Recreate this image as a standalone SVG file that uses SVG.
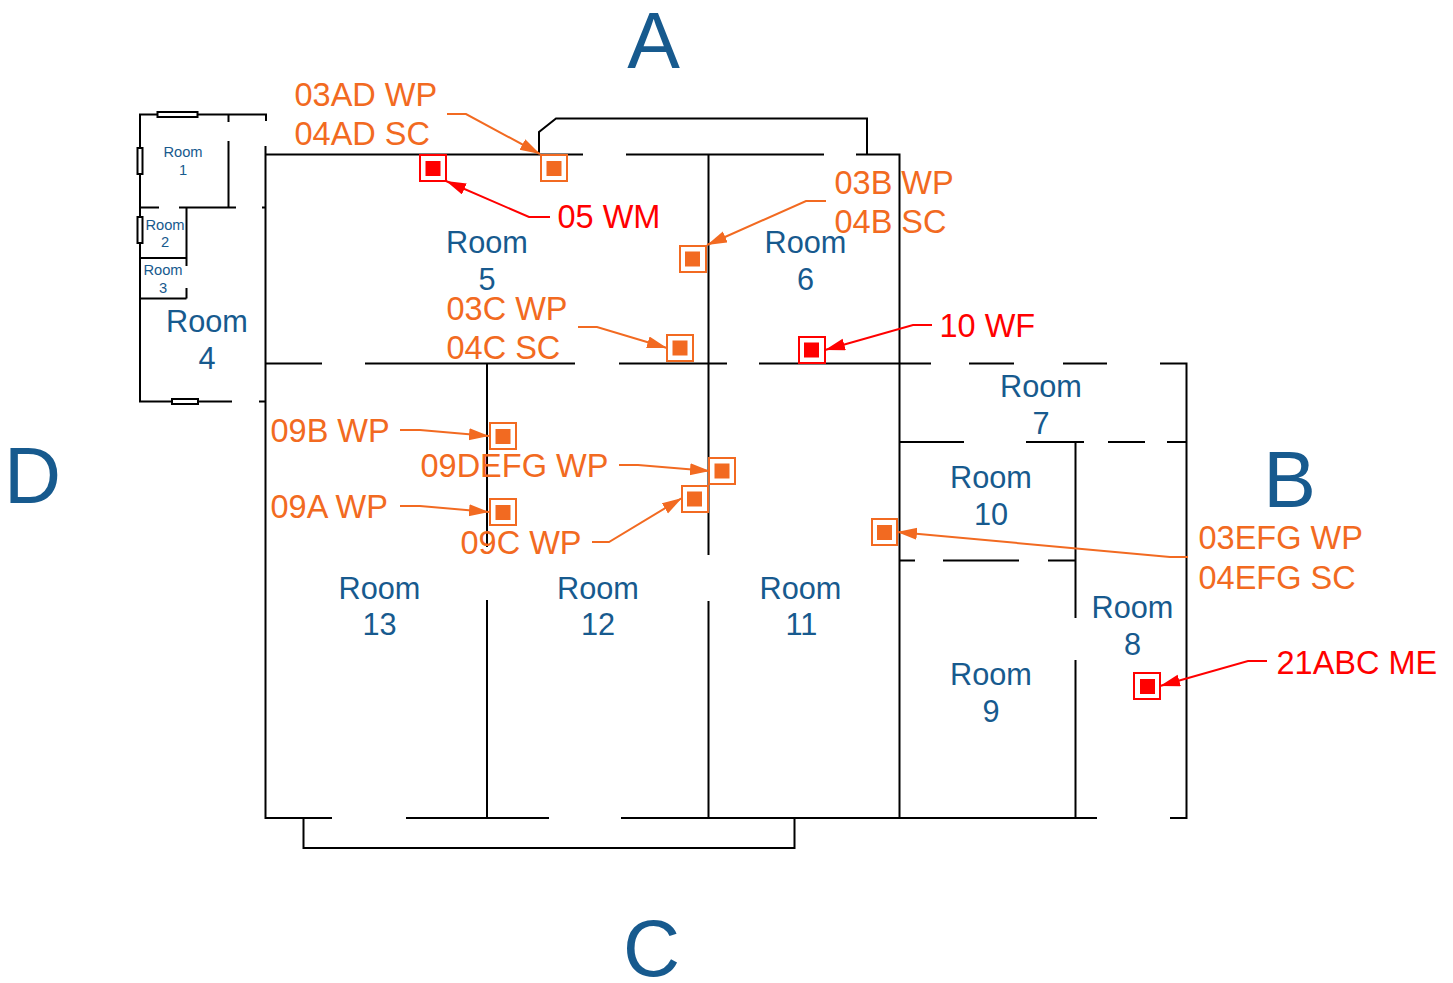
<svg xmlns="http://www.w3.org/2000/svg" width="1453" height="983" viewBox="0 0 1453 983">
<style>
text{font-family:"Liberation Sans",Arial,sans-serif}
.w{fill:none;stroke:#000;stroke-width:2}
.win{fill:#fff;stroke:#000;stroke-width:2}
.r{fill:#175a8e;font-size:30.7px;text-anchor:middle}
.rs{fill:#175a8e;font-size:14.7px;text-anchor:middle}
.big{fill:#175a8e;font-size:79px;text-anchor:middle}
.lo{fill:#f26a21;font-size:32.5px}
.lr{fill:#ff0000;font-size:32.5px}
.co{fill:none;stroke:#f26a21;stroke-width:2;marker-end:url(#ao)}
.cr{fill:none;stroke:#ff0000;stroke-width:2;marker-end:url(#ar)}
.oo{fill:#fff;stroke:#f26a21;stroke-width:2}
.oi{fill:#f26a21}
.ro{fill:#fff;stroke:#ff0000;stroke-width:2}
.ri{fill:#ff0000}
</style>
<defs>
<marker id="ao" markerUnits="userSpaceOnUse" markerWidth="22" markerHeight="14" refX="20" refY="6" orient="auto"><path d="M0 0L20 6L0 12Z" fill="#f26a21"/></marker>
<marker id="ar" markerUnits="userSpaceOnUse" markerWidth="22" markerHeight="14" refX="20" refY="6" orient="auto"><path d="M0 0L20 6L0 12Z" fill="#ff0000"/></marker>
</defs>
<g id="walls">
<path class="w" d="M266 121V114.500H140V401.500H232M259 401.500H266M228.500 114.500V122M228.500 141V207.500M140 207.500H159M179 207.500H236M262 207.500H266M186.500 207.500V266M186.500 288V298.500M140 258H186.500M140 298.500H186.500"/>
<path class="w" d="M265.500 146V818H332M406 818H549M621 818H1097M1170 818H1186.500V363.500H1160M1107 363.500H1063M1014 363.500H969M931 363.500H759M727 363.500H619M575 363.500H365M322 363.500H266"/>
<path class="w" d="M266 154.500H583M626 154.500H824M856 154.500H899.500V818M539 154.500V132L556 118.500H867V154.500"/>
<path class="w" d="M708.500 154.500V555M708.500 601V818M487 363.500V547M487 600V818"/>
<path class="w" d="M900 442H964M1026 442H1084M1108 442H1145M1167 442H1187M1075.500 442V618M1075.500 660V818M900 560.500H915M943 560.500H1019M1048 560.500H1075.500"/>
<path class="w" d="M303.500 818V848H794.500V818"/>
<rect class="win" x="157.500" y="112" width="40" height="5"/>
<rect class="win" x="137.500" y="148" width="5" height="26"/>
<rect class="win" x="137.500" y="217" width="5" height="26"/>
<rect class="win" x="172" y="399" width="26" height="5"/>
</g>
<g id="connectors">
<path class="co" d="M447 114H466L540 154"/>
<path class="cr" d="M550 217H529L446 181"/>
<path class="co" d="M826 201H806L707 245"/>
<path class="co" d="M578 327H597L667 348"/>
<path class="cr" d="M932 325H913L825 350"/>
<path class="co" d="M400 430H420L489 436"/>
<path class="co" d="M400 506H420L489 512"/>
<path class="co" d="M619 465H638L710 471"/>
<path class="co" d="M592 542H609L682 498"/>
<path class="co" d="M1188 557H1170L897 532"/>
<path class="cr" d="M1267 661H1248L1160 686"/>
</g>
<g id="device-05"><rect class="ro" x="420" y="155" width="26" height="26"/><rect class="ri" x="425.500" y="161" width="15" height="15"/></g>
<g id="device-03AD"><rect class="oo" x="541" y="155" width="26" height="26"/><rect class="oi" x="546.500" y="161" width="15" height="15"/></g>
<g id="device-03B"><rect class="oo" x="680" y="246" width="26" height="26"/><rect class="oi" x="685" y="251.500" width="15" height="15"/></g>
<g id="device-03C"><rect class="oo" x="667" y="335" width="26" height="26"/><rect class="oi" x="672.500" y="340.500" width="15" height="15"/></g>
<g id="device-10"><rect class="ro" x="799" y="337" width="26" height="26"/><rect class="ri" x="804" y="342.500" width="15" height="15"/></g>
<g id="device-09B"><rect class="oo" x="490" y="423" width="26" height="26"/><rect class="oi" x="495.500" y="429" width="15" height="15"/></g>
<g id="device-09DEFG"><rect class="oo" x="709" y="458" width="26" height="26"/><rect class="oi" x="714.500" y="463.500" width="15" height="15"/></g>
<g id="device-09A"><rect class="oo" x="490" y="499" width="26" height="26"/><rect class="oi" x="495.500" y="505" width="15" height="15"/></g>
<g id="device-09C"><rect class="oo" x="682" y="486" width="26" height="26"/><rect class="oi" x="687" y="491.500" width="15" height="15"/></g>
<g id="device-03EFG"><rect class="oo" x="872" y="519" width="25" height="26"/><rect class="oi" x="877" y="525" width="15" height="15"/></g>
<g id="device-21ABC"><rect class="ro" x="1134" y="673" width="26" height="26"/><rect class="ri" x="1140" y="679" width="15" height="15"/></g>
<g id="room-labels">
<text class="rs" x="183" y="157">Room</text><text class="rs" x="183" y="175">1</text>
<text class="rs" x="165" y="230">Room</text><text class="rs" x="165" y="247">2</text>
<text class="rs" x="163" y="275">Room</text><text class="rs" x="163" y="293">3</text>
<text class="r" x="207" y="332">Room</text><text class="r" x="207" y="369">4</text>
<text class="r" x="487" y="253">Room</text><text class="r" x="487" y="290">5</text>
<text class="r" x="805.500" y="253">Room</text><text class="r" x="805.500" y="290">6</text>
<text class="r" x="1041" y="397">Room</text><text class="r" x="1041" y="434">7</text>
<text class="r" x="1132.500" y="618">Room</text><text class="r" x="1132.500" y="655">8</text>
<text class="r" x="991" y="685">Room</text><text class="r" x="991" y="722">9</text>
<text class="r" x="991" y="488">Room</text><text class="r" x="991" y="525">10</text>
<text class="r" x="800.500" y="599">Room</text><text class="r" x="801.500" y="635">11</text>
<text class="r" x="598" y="599">Room</text><text class="r" x="598" y="635">12</text>
<text class="r" x="379.500" y="599">Room</text><text class="r" x="379.500" y="635">13</text>
</g>
<g id="side-labels">
<text class="big" x="653.500" y="68">A</text>
<text class="big" x="1289.500" y="506.500">B</text>
<text class="big" x="651.500" y="976">C</text>
<text class="big" x="32.500" y="503">D</text>
</g>
<g id="device-labels">
<text class="lo" x="294.500" y="106">03AD WP</text><text class="lo" x="294.500" y="145">04AD SC</text>
<text class="lr" x="557.500" y="228">05 WM</text>
<text class="lo" x="834.500" y="194">03B WP</text><text class="lo" x="834.500" y="233">04B SC</text>
<text class="lo" x="446.500" y="320">03C WP</text><text class="lo" x="446.500" y="359">04C SC</text>
<text class="lr" x="939.500" y="337">10 WF</text>
<text class="lo" x="270.500" y="442">09B WP</text>
<text class="lo" x="420.500" y="477">09DEFG WP</text>
<text class="lo" x="270.500" y="518">09A WP</text>
<text class="lo" x="460.500" y="554">09C WP</text>
<text class="lo" x="1198.500" y="549">03EFG WP</text><text class="lo" x="1198.500" y="589">04EFG SC</text>
<text class="lr" x="1276.500" y="674">21ABC ME</text>
</g>
</svg>
